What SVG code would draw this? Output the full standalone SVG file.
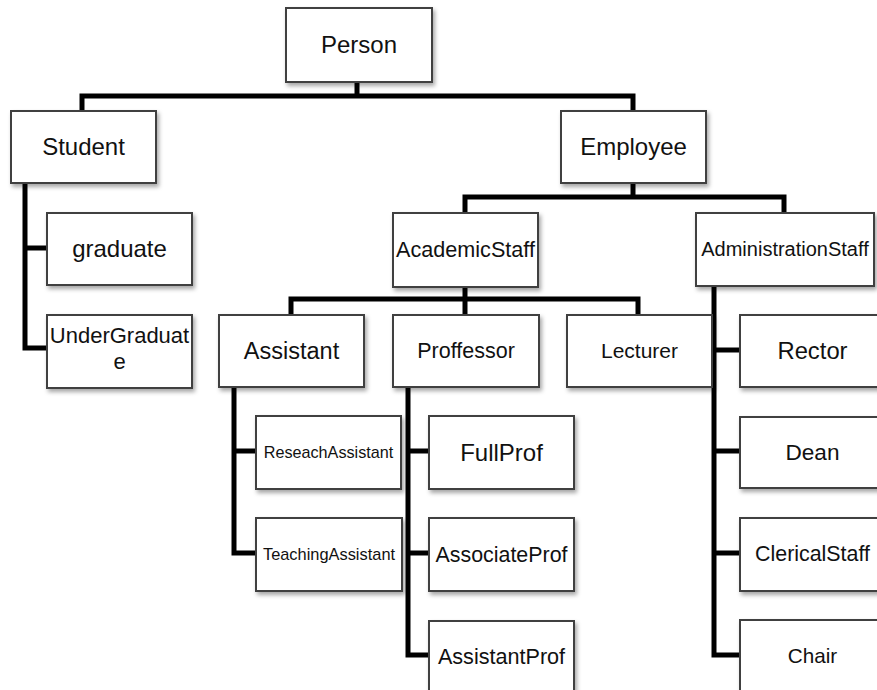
<svg xmlns="http://www.w3.org/2000/svg" width="877" height="690" viewBox="0 0 877 690">
<defs>
<filter id="sh" x="-10%" y="-10%" width="130%" height="140%">
<feDropShadow dx="2" dy="3" stdDeviation="2" flood-color="#000" flood-opacity="0.35"/>
</filter>
<style>
.box{fill:#fff;stroke:#404040;stroke-width:2;filter:url(#sh)}
.lbl{font-family:"Liberation Sans",Arial,sans-serif;fill:#111;text-anchor:middle}
.ln{fill:none;stroke:#000;stroke-width:5;stroke-linejoin:miter}
</style>
</defs>
<rect width="877" height="690" fill="#fff"/>
<g id="connectors">
<path class="ln" d="M357,82 V96"/>
<path class="ln" d="M82,111 V96 H633 V111"/>
<path class="ln" d="M25,183 V348 H47"/>
<path class="ln" d="M25,248 H47"/>
<path class="ln" d="M633,183 V197"/>
<path class="ln" d="M465,213 V197 H784 V213"/>
<path class="ln" d="M465,287 V315"/>
<path class="ln" d="M291,315 V299 H638 V315"/>
<path class="ln" d="M714,286 V655 H740"/>
<path class="ln" d="M714,350 H740"/>
<path class="ln" d="M714,451 H740"/>
<path class="ln" d="M714,553 H740"/>
<path class="ln" d="M234,387 V553 H256"/>
<path class="ln" d="M234,451 H256"/>
<path class="ln" d="M408,387 V655 H429"/>
<path class="ln" d="M408,451 H429"/>
<path class="ln" d="M408,553 H429"/>
</g>
<g id="person"><rect class="box" x="286" y="8" width="146" height="74"/><text class="lbl" x="359" y="53" font-size="24">Person</text></g>
<g id="student"><rect class="box" x="11" y="111" width="145" height="72"/><text class="lbl" x="83.5" y="155" font-size="24">Student</text></g>
<g id="employee"><rect class="box" x="561" y="111" width="145" height="72"/><text class="lbl" x="633.5" y="155" font-size="24">Employee</text></g>
<g id="graduate"><rect class="box" x="47" y="213" width="145" height="72"/><text class="lbl" x="119.5" y="257" font-size="24">graduate</text></g>
<g id="undergraduate"><rect class="box" x="47" y="315" width="145" height="73"/><text class="lbl" x="119.5" y="343" font-size="22">UnderGraduat</text><text class="lbl" x="119.5" y="369" font-size="22">e</text></g>
<g id="academicstaff"><rect class="box" x="393" y="213" width="145" height="74"/><text class="lbl" x="465.5" y="257" font-size="21.6">AcademicStaff</text></g>
<g id="administrationstaff"><rect class="box" x="696" y="213" width="178" height="73"/><text class="lbl" x="785" y="256" font-size="20">AdministrationStaff</text></g>
<g id="assistant"><rect class="box" x="219" y="315" width="145" height="72"/><text class="lbl" x="291.5" y="359" font-size="23.5">Assistant</text></g>
<g id="proffessor"><rect class="box" x="393" y="315" width="146" height="72"/><text class="lbl" x="466" y="358" font-size="21.5">Proffessor</text></g>
<g id="lecturer"><rect class="box" x="567" y="315" width="145" height="72"/><text class="lbl" x="639.5" y="358" font-size="21">Lecturer</text></g>
<g id="rector"><rect class="box" x="740" y="315" width="145" height="72"/><text class="lbl" x="812.5" y="359" font-size="23.8">Rector</text></g>
<g id="reseachassistant"><rect class="box" x="256" y="416" width="145" height="73"/><text class="lbl" x="328.5" y="458" font-size="16.2">ReseachAssistant</text></g>
<g id="teachingassistant"><rect class="box" x="256" y="518" width="146" height="73"/><text class="lbl" x="329" y="560" font-size="16.4">TeachingAssistant</text></g>
<g id="fullprof"><rect class="box" x="429" y="416" width="145" height="73"/><text class="lbl" x="501.5" y="461" font-size="24">FullProf</text></g>
<g id="associateprof"><rect class="box" x="429" y="518" width="145" height="73"/><text class="lbl" x="501.5" y="562" font-size="21.4">AssociateProf</text></g>
<g id="assistantprof"><rect class="box" x="429" y="621" width="145" height="75"/><text class="lbl" x="501.5" y="664" font-size="21.6">AssistantProf</text></g>
<g id="dean"><rect class="box" x="740" y="417" width="145" height="71"/><text class="lbl" x="812.5" y="460" font-size="22.6">Dean</text></g>
<g id="clericalstaff"><rect class="box" x="740" y="518" width="145" height="73"/><text class="lbl" x="812.5" y="561" font-size="21.4">ClericalStaff</text></g>
<g id="chair"><rect class="box" x="740" y="620" width="145" height="75"/><text class="lbl" x="812.5" y="663" font-size="20.7">Chair</text></g>
</svg>
